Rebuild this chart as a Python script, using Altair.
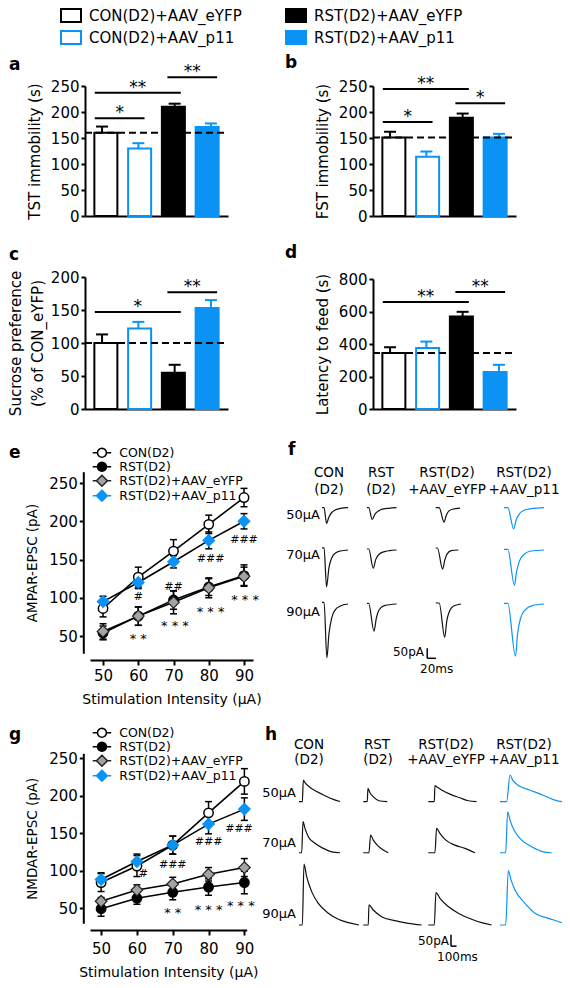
import math
import altair as alt
import pandas as pd

FONT = "DejaVu Sans"
BLUE = "#0A93F5"
GRAY = "#A3A3A3"

# ---------------- behaviour data (panels a-d) ----------------
GROUPS = ["CON(D2)+AAV_eYFP", "CON(D2)+AAV_p11", "RST(D2)+AAV_eYFP", "RST(D2)+AAV_p11"]
TST_MEAN = [160, 130, 210, 171]
TST_SEM = [12, 10, 6, 7]
FST_MEAN = [151, 114, 189, 151]
FST_SEM = [11, 10, 8, 7]
SUC_MEAN = [100, 122, 55, 153]
SUC_SEM = [13, 10, 12, 12]
LAT_MEAN = [345, 375, 570, 228]
LAT_SEM = [35, 40, 28, 44]
# significance brackets: (from group, to group, height, label)
TST_SIG = [(0, 1, 188, "*"), (0, 2, 237, "**"), (2, 3, 267, "**")]
FST_SIG = [(0, 1, 181, "*"), (0, 2, 244, "**"), (2, 3, 217, "*")]
SUC_SIG = [(0, 2, 147, "*"), (2, 3, 177, "**")]
LAT_SIG = [(0, 2, 658, "**"), (2, 3, 720, "**")]

# ---------------- EPSC input-output data (panels e, g) ----------------
INTENSITY = [50, 60, 70, 80, 90]
SERIES = ["CON(D2)", "RST(D2)", "RST(D2)+AAV_eYFP", "RST(D2)+AAV_p11"]
AMPA_CON = [86, 127, 161, 196, 231]
AMPA_CON_SEM = [11, 13, 15, 12, 12]
AMPA_RST = [54, 76, 97, 114, 129]
AMPA_RST_SEM = [9, 12, 12, 11, 14]
AMPA_EYFP = [56, 76, 94, 113, 128]
AMPA_EYFP_SEM = [10, 12, 15, 13, 12]
AMPA_P11 = [95, 120, 147, 175, 200]
AMPA_P11_SEM = [7, 8, 8, 11, 10]
AMPA_HASH = ["#", "##", "###", "###"]
AMPA_HASH_X = [60, 70, 80.5, 90]
AMPA_HASH_Y = [101, 114, 151, 176]
AMPA_STAR = ["**", "***", "***", "***"]
AMPA_STAR_X = [60, 70.4, 80.5, 90.3]
AMPA_STAR_Y = [51, 68, 86, 102]

NMDA_CON = [84, 106, 134, 177, 219]
NMDA_CON_SEM = [12, 14, 12, 15, 17]
NMDA_RST = [49, 63, 71, 78, 84]
NMDA_RST_SEM = [10, 8, 10, 11, 15]
NMDA_EYFP = [59, 74, 82, 95, 104]
NMDA_EYFP_SEM = [5, 7, 9, 9, 12]
NMDA_P11 = [88, 112, 134, 162, 182]
NMDA_P11_SEM = [9, 10, 12, 13, 15]
NMDA_HASH = ["#", "###", "###", "###"]
NMDA_HASH_X = [61.8, 70, 80, 88.5]
NMDA_HASH_Y = [95, 108, 138, 155]
NMDA_STAR = ["**", "***", "***"]
NMDA_STAR_X = [70, 80, 89]
NMDA_STAR_Y = [49, 53, 58]

# ---------------- example traces (time ms after onset, current pA) ----------------
STIM = ["50μA", "70μA", "90μA"]
F50_CON_T = [0, 4.8, 10.4, 16, 22.4, 30.4, 42.4, 60]
F50_CON_I = [0, 0, -78, -46, -24, -11, -3, 0]
F50_RST_T = [0, 4, 12, 18.4, 26.4, 38.4, 50.4, 68]
F50_RST_I = [0, 0, -59, -32, -16, -6, -3, 0]
F50_EYFP_T = [0, 8, 19.2, 24, 30.4, 38.4, 56]
F50_EYFP_I = [0, 0, -72, -40, -16, -8, -2]
F50_P11_T = [0, 8.8, 22.4, 28, 36, 46.4, 62.4, 92]
F50_P11_I = [0, 0, -106, -61, -29, -13, -5, 0]
F70_CON_T = [0, 4.8, 10.4, 16, 22.4, 30.4, 42.4, 60]
F70_CON_I = [11, 11, -184, -88, -40, -16, -5, 0]
F70_RST_T = [0, 4, 14.4, 20, 28, 40, 52, 68]
F70_RST_I = [5, 5, -91, -48, -21, -8, -3, 0]
F70_EYFP_T = [0, 4, 16, 20.8, 26.4, 36, 52]
F70_EYFP_I = [10, 10, -96, -51, -19, -3, 0]
F70_P11_T = [0, 8.8, 24, 28.8, 36, 46.4, 62.4, 92]
F70_P11_I = [3, 3, -176, -109, -53, -21, -5, 0]
F90_CON_T = [0, 4.8, 11.2, 16, 22.4, 30.4, 42.4, 60]
F90_CON_I = [8, 8, -269, -149, -69, -29, -10, 0]
F90_RST_T = [0, 4, 16, 21.6, 28, 40, 68]
F90_RST_I = [3, 3, -136, -69, -29, -8, 0]
F90_EYFP_T = [0, 8, 20.8, 25.6, 32, 40, 58.4]
F90_EYFP_I = [5, 5, -166, -83, -35, -11, 0]
F90_P11_T = [0, 8.8, 26.4, 31.2, 38.4, 48.8, 64.8, 92]
F90_P11_I = [3, 3, -261, -149, -69, -29, -8, 0]

H50_CON_T = [0, 60, 78, 108, 198, 318, 468, 618, 738]
H50_CON_I = [0, 0, 94, 83, 62, 44, 26, 10, 1]
H50_RST_T = [0, 72, 84, 120, 192, 282, 432]
H50_RST_I = [0, 0, 58, 39, 19, 4, 0]
H50_EYFP_T = [0, 108, 120, 150, 240, 390, 570, 720, 870]
H50_EYFP_I = [0, 0, 70, 65, 51, 33, 17, 4, 0]
H50_P11_T = [0, 120, 180, 228, 348, 528, 768, 948, 1128, 1248]
H50_P11_I = [0, 0, 116, 94, 68, 51, 29, 10, 0, 0]
H70_CON_T = [0, 48, 72, 108, 168, 288, 438, 588, 738]
H70_CON_I = [0, 0, 135, 106, 70, 41, 19, 4, 0]
H70_RST_T = [0, 102, 132, 180, 270, 360, 450]
H70_RST_I = [0, 0, 77, 55, 29, 12, 0]
H70_EYFP_T = [0, 120, 150, 210, 300, 480, 660, 840]
H70_EYFP_I = [0, 0, 106, 84, 58, 33, 19, 0]
H70_P11_T = [0, 102, 138, 180, 270, 390, 570, 780, 930]
H70_P11_I = [0, 0, 178, 142, 91, 55, 26, 4, 0]
H90_CON_T = [0, 60, 90, 138, 228, 348, 528, 708, 888, 1080]
H90_CON_I = [0, 0, 265, 210, 145, 94, 51, 25, 10, 0]
H90_RST_T = [0, 90, 102, 180, 330, 570, 810, 1050]
H90_RST_I = [0, 0, 87, 65, 36, 19, 7, 0]
H90_EYFP_T = [0, 108, 138, 210, 360, 540, 780, 960, 1140]
H90_EYFP_I = [0, 0, 141, 116, 80, 51, 25, 10, 0]
H90_P11_T = [0, 102, 150, 198, 270, 450, 630, 870, 1110, 1200]
H90_P11_I = [0, 0, 236, 196, 152, 94, 51, 29, 10, 0]
F_SCALEBAR = (20, 50)    # ms, pA
H_SCALEBAR = (100, 50)   # ms, pA

F_TRACES = [
    (0, 0, F50_CON_T, F50_CON_I), (0, 1, F50_RST_T, F50_RST_I), (0, 2, F50_EYFP_T, F50_EYFP_I), (0, 3, F50_P11_T, F50_P11_I),
    (1, 0, F70_CON_T, F70_CON_I), (1, 1, F70_RST_T, F70_RST_I), (1, 2, F70_EYFP_T, F70_EYFP_I), (1, 3, F70_P11_T, F70_P11_I),
    (2, 0, F90_CON_T, F90_CON_I), (2, 1, F90_RST_T, F90_RST_I), (2, 2, F90_EYFP_T, F90_EYFP_I), (2, 3, F90_P11_T, F90_P11_I),
]
H_TRACES = [
    (0, 0, H50_CON_T, H50_CON_I), (0, 1, H50_RST_T, H50_RST_I), (0, 2, H50_EYFP_T, H50_EYFP_I), (0, 3, H50_P11_T, H50_P11_I),
    (1, 0, H70_CON_T, H70_CON_I), (1, 1, H70_RST_T, H70_RST_I), (1, 2, H70_EYFP_T, H70_EYFP_I), (1, 3, H70_P11_T, H70_P11_I),
    (2, 0, H90_CON_T, H90_CON_I), (2, 1, H90_RST_T, H90_RST_I), (2, 2, H90_EYFP_T, H90_EYFP_I), (2, 3, H90_P11_T, H90_P11_I),
]

# ---------------- layout (page pixels) ----------------
W, H = 554, 972


def px(v):
    return v - 8


AX = dict(domainColor="black", tickColor="black", labelColor="black", titleColor="black",
          grid=False, labelFont=FONT, titleFont=FONT, titleFontWeight="normal")

BAR_XDOM = [-0.47, 3.47]
BRK_L, BRK_R = 0.2, 0.17
FILL_RANGE = ["white", "white", "black", BLUE]
STROKE_RANGE = ["black", BLUE, "black", BLUE]
RECT_PATH = "M-1.54,-1H1.54V1H-1.54Z"


def poly(r, n):
    pts = [(r * math.cos(2 * math.pi * k / n), r * math.sin(2 * math.pi * k / n)) for k in range(n)]
    return "M" + "L".join(f"{x:.3f},{y:.3f}" for x, y in pts) + "Z"


CIRC_PATH = "M-1.85,0H-0.9M0.9,0H1.85" + poly(0.9, 16)
DIAM_PATH = "M-1.85,0H-1.1M1.1,0H1.85M0,-1.1L1.1,0L0,1.1L-1.1,0Z"


def bar_panel(means, sems, sig, ydom, yticks, xpx, ypx, title, legend=None, title_pad=8):
    df = pd.DataFrame({"group": GROUPS, "idx": list(range(len(GROUPS))), "mean": means, "sem": sems})
    df["top"] = df["mean"] + df["sem"]
    sdf = pd.DataFrame(sig, columns=["i", "j", "level", "label"])
    sdf["x1"] = sdf["i"] - BRK_L
    sdf["x2"] = sdf["j"] + BRK_R
    sdf["xm"] = (sdf["x1"] + sdf["x2"]) / 2

    def xs():
        return alt.Scale(domain=BAR_XDOM, range=[px(xpx[0]), px(xpx[1])], nice=False, zero=False)

    def ys():
        return alt.Scale(domain=ydom, range=[px(ypx[0]), px(ypx[1])], nice=False, zero=False)

    xaxis = alt.Axis(orient="bottom", offset=px(ypx[0]) - H, ticks=False, labels=False, title=None,
                     domainWidth=2, **AX)
    yaxis = alt.Axis(orient="left", offset=-px(xpx[0]), values=yticks, tickSize=4, tickWidth=2,
                     domainWidth=2, labelFontSize=15, labelPadding=2, title=title, titleFontSize=15,
                     titlePadding=title_pad, titleLineHeight=22, **AX)

    def fs():
        return alt.Scale(domain=GROUPS, range=FILL_RANGE)

    def ss():
        return alt.Scale(domain=GROUPS, range=STROKE_RANGE)

    bars = alt.Chart(df).mark_bar(size=23, strokeWidth=2, orient="vertical").encode(
        x=alt.X("idx:Q", scale=xs(), axis=xaxis),
        y=alt.Y("mean:Q", scale=ys(), axis=yaxis),
        fill=alt.Fill("group:N", scale=fs(), legend=legend),
        stroke=alt.Stroke("group:N", scale=ss(), legend=legend),
    )
    err = alt.Chart(df).mark_rule(strokeWidth=2).encode(
        x=alt.X("idx:Q", scale=xs(), axis=None), y=alt.Y("mean:Q", scale=ys(), axis=None), y2="top:Q",
        stroke=alt.Stroke("group:N", scale=ss(), legend=None))
    cap = alt.Chart(df).mark_tick(orient="horizontal", size=12, thickness=2, opacity=1).encode(
        x=alt.X("idx:Q", scale=xs(), axis=None), y=alt.Y("top:Q", scale=ys(), axis=None),
        color=alt.Color("group:N", scale=ss(), legend=None))
    ref = alt.Chart(df.head(1)).mark_rule(strokeWidth=2, strokeDash=[7, 4], color="black").encode(
        x=alt.XDatum(BAR_XDOM[0], scale=xs(), axis=None), x2=alt.X2Datum(BAR_XDOM[1]),
        y=alt.Y("mean:Q", scale=ys(), axis=None))
    brk = alt.Chart(sdf).mark_rule(strokeWidth=2, color="black").encode(
        x=alt.X("x1:Q", scale=xs(), axis=None), x2="x2:Q", y=alt.Y("level:Q", scale=ys(), axis=None))
    stars = alt.Chart(sdf).mark_text(fontSize=17, font=FONT, baseline="alphabetic", color="black").encode(
        x=alt.X("xm:Q", scale=xs(), axis=None), y=alt.Y("level:Q", scale=ys(), axis=None), text="label:N")
    return [bars, err, cap, ref, brk, stars]


def line_panel(means, sems, hashes, stars, xdom, xpx, xaxis_y, ydom, ypx, yaxis_x, ytitle, leg_xy,
               xlab_pad, xtitle_pad):
    rows = []
    for s, m, e in zip(SERIES, means, sems):
        for x, mv, ev in zip(INTENSITY, m, e):
            rows.append({"series": s, "intensity": x, "mean": mv, "lo": mv - ev, "hi": mv + ev})
    ldf = pd.DataFrame(rows)

    def xs():
        return alt.Scale(domain=xdom, range=[px(xpx[0]), px(xpx[1])], nice=False, zero=False)

    def ys():
        return alt.Scale(domain=ydom, range=[px(ypx[0]), px(ypx[1])], nice=False, zero=False)

    def fs():
        return alt.Scale(domain=SERIES, range=["white", "black", GRAY, BLUE])

    def ss():
        return alt.Scale(domain=SERIES, range=["black", "black", "#222222", BLUE])

    xaxis = alt.Axis(orient="bottom", offset=px(xaxis_y) - H, values=INTENSITY, tickSize=5, tickWidth=2,
                     domainWidth=2, labelFontSize=15, labelPadding=xlab_pad,
                     title="Stimulation Intensity (μA)", titleFontSize=14, titlePadding=xtitle_pad, **AX)
    yaxis = alt.Axis(orient="left", offset=-px(yaxis_x), values=[50, 100, 150, 200, 250], tickSize=4,
                     tickWidth=2, domainWidth=2, labelFontSize=15, labelPadding=2, title=ytitle,
                     titleFontSize=13.5, titlePadding=9, **AX)
    leg = alt.Legend(orient="none", legendX=px(leg_xy[0]), legendY=px(leg_xy[1]), title=None,
                     labelFontSize=12.5, labelFont=FONT, labelColor="black", labelOffset=11,
                     rowPadding=-4, padding=0, symbolStrokeWidth=1.5, labelLimit=0)
    line = alt.Chart(ldf).mark_line(color="black", strokeWidth=1.6).encode(
        x=alt.X("intensity:Q", scale=xs(), axis=xaxis), y=alt.Y("mean:Q", scale=ys(), axis=yaxis),
        detail="series:N")
    err = alt.Chart(ldf).mark_rule(color="black", strokeWidth=1.5).encode(
        x=alt.X("intensity:Q", scale=xs(), axis=None), y=alt.Y("lo:Q", scale=ys(), axis=None), y2="hi:Q")
    cap_lo = alt.Chart(ldf).mark_tick(orient="horizontal", size=7, thickness=1.5, color="black", opacity=1).encode(
        x=alt.X("intensity:Q", scale=xs(), axis=None), y=alt.Y("lo:Q", scale=ys(), axis=None))
    cap_hi = alt.Chart(ldf).mark_tick(orient="horizontal", size=7, thickness=1.5, color="black", opacity=1).encode(
        x=alt.X("intensity:Q", scale=xs(), axis=None), y=alt.Y("hi:Q", scale=ys(), axis=None))
    circ = alt.Chart(ldf).transform_filter(
        alt.FieldOneOfPredicate(field="series", oneOf=SERIES[:2])
    ).mark_point(shape="circle", filled=True, size=88, strokeWidth=1.5, opacity=1).encode(
        x=alt.X("intensity:Q", scale=xs(), axis=None), y=alt.Y("mean:Q", scale=ys(), axis=None),
        fill=alt.Fill("series:N", scale=fs(), legend=None), stroke=alt.Stroke("series:N", scale=ss(), legend=None))
    diam = alt.Chart(ldf).transform_filter(
        alt.FieldOneOfPredicate(field="series", oneOf=SERIES[2:])
    ).mark_point(shape="diamond", filled=True, size=135, strokeWidth=1.2, opacity=1).encode(
        x=alt.X("intensity:Q", scale=xs(), axis=None), y=alt.Y("mean:Q", scale=ys(), axis=None),
        fill=alt.Fill("series:N", scale=fs(), legend=None), stroke=alt.Stroke("series:N", scale=ss(), legend=None))
    legend_layer = alt.Chart(ldf).transform_filter("datum.intensity < 0").mark_point(
        filled=True, size=100, strokeWidth=1.5, opacity=1).encode(
        x=alt.X("intensity:Q", scale=xs(), axis=None), y=alt.Y("mean:Q", scale=ys(), axis=None),
        shape=alt.Shape("series:N", scale=alt.Scale(domain=SERIES, range=[CIRC_PATH, CIRC_PATH, DIAM_PATH, DIAM_PATH]),
                        legend=leg),
        fill=alt.Fill("series:N", scale=fs(), legend=leg),
        stroke=alt.Stroke("series:N", scale=ss(), legend=leg))
    hdf = pd.DataFrame({"x": hashes[0], "y": hashes[2], "label": hashes[1]})
    sdf = pd.DataFrame({"x": stars[0], "y": stars[2], "label": stars[1]})
    htext = alt.Chart(hdf).mark_text(fontSize=11, font=FONT, color="black", baseline="middle").encode(
        x=alt.X("x:Q", scale=xs(), axis=None), y=alt.Y("y:Q", scale=ys(), axis=None), text="label:N")
    stext = alt.Chart(sdf).transform_calculate(disp="join(split(datum.label, ''), ' ')").mark_text(
        fontSize=13, font=FONT, color="black", baseline="middle", dy=4).encode(
        x=alt.X("x:Q", scale=xs(), axis=None), y=alt.Y("y:Q", scale=ys(), axis=None), text="disp:N")
    return [line, err, cap_lo, cap_hi, circ, diam, legend_layer, htext, stext]


def trace_panel(traces, col_off, row_off, xdom, xpx, ydom, ypx, bar_anchor, bar_len):
    rows = []
    for k, (r, c, T, I) in enumerate(traces):
        for n, (t, i) in enumerate(zip(T, I)):
            rows.append({"trace": k, "col": SERIES[c], "n": n, "x": col_off[c] + t, "y": row_off[r] + i})
    tdf = pd.DataFrame(rows)

    def xs():
        return alt.Scale(domain=xdom, range=[px(xpx[0]), px(xpx[1])], nice=False, zero=False)

    def ys():
        return alt.Scale(domain=ydom, range=[px(ypx[0]), px(ypx[1])], nice=False, zero=False)

    lines = alt.Chart(tdf).mark_line(strokeWidth=1.2, interpolate="monotone").encode(
        x=alt.X("x:Q", scale=xs(), axis=None), y=alt.Y("y:Q", scale=ys(), axis=None),
        detail="trace:N", order="n:Q",
        color=alt.Color("col:N", scale=alt.Scale(domain=SERIES, range=["#111111", "#111111", "#111111", BLUE]),
                        legend=None))
    ax, ay = bar_anchor
    bdf = pd.DataFrame({"x": [ax, ax], "x2": [ax, ax + bar_len[0]], "y": [ay, ay], "y2": [ay + bar_len[1], ay]})
    sbar = alt.Chart(bdf).mark_rule(color="black", strokeWidth=1.5).encode(
        x=alt.X("x:Q", scale=xs(), axis=None), x2="x2:Q", y=alt.Y("y:Q", scale=ys(), axis=None), y2="y2:Q")
    return [lines, sbar]


def label(txt, x, y, size=14, weight="normal", align="center", baseline="middle", color="black"):
    return alt.Chart(pd.DataFrame({"t": [txt]})).mark_text(
        fontSize=size, fontWeight=weight, align=align, baseline=baseline, color=color, font=FONT
    ).encode(x=alt.value(px(x)), y=alt.value(px(y)), text="t:N")


top_legend = alt.Legend(orient="none", legendX=px(63.5), legendY=0, columns=2, columnPadding=39,
                        rowPadding=1, title=None, symbolType=RECT_PATH, symbolSize=169, symbolStrokeWidth=2,
                        labelFontSize=15, labelFont=FONT, labelColor="black", labelOffset=10.5,
                        labelLimit=0, padding=0)

units = []
units += bar_panel(TST_MEAN, TST_SEM, TST_SIG, [0, 250], [0, 50, 100, 150, 200, 250],
                   (85, 228), (216, 86), "TST immobility (s)", legend=top_legend)
units += bar_panel(FST_MEAN, FST_SEM, FST_SIG, [0, 250], [0, 50, 100, 150, 200, 250],
                   (373, 516), (216, 86), "FST immobility (s)")
units += bar_panel(SUC_MEAN, SUC_SEM, SUC_SIG, [0, 200], [0, 50, 100, 150, 200],
                   (85, 228), (409, 277), ["Sucrose preference", "(% of CON_eYFP)"], title_pad=5)
units += bar_panel(LAT_MEAN, LAT_SEM, LAT_SIG, [0, 800], [0, 200, 400, 600, 800],
                   (373, 516), (409, 279), "Latency to feed (s)")
units += line_panel([AMPA_CON, AMPA_RST, AMPA_EYFP, AMPA_P11],
                    [AMPA_CON_SEM, AMPA_RST_SEM, AMPA_EYFP_SEM, AMPA_P11_SEM],
                    (AMPA_HASH_X, AMPA_HASH, AMPA_HASH_Y), (AMPA_STAR_X, AMPA_STAR, AMPA_STAR_Y),
                    [46.3, 92.55], (90, 253), 660, [27.4, 264.8], (653.3, 471.7), 83.3,
                    "AMPAR-EPSC (pA)", (95.7, 446.5), 3, 9)
units += line_panel([NMDA_CON, NMDA_RST, NMDA_EYFP, NMDA_P11],
                    [NMDA_CON_SEM, NMDA_RST_SEM, NMDA_EYFP_SEM, NMDA_P11_SEM],
                    (NMDA_HASH_X, NMDA_HASH, NMDA_HASH_Y), (NMDA_STAR_X, NMDA_STAR, NMDA_STAR_Y),
                    [46.9, 90.65], (90, 246.7), 930, [29.6, 256.5], (923.3, 753.3), 83.3,
                    "NMDAR-EPSC (pA)", (95.7, 726.5), 6, 9)
units += trace_panel(F_TRACES, [0, 103.5, 261.5, 418.6], [0, -211.5, -481.5],
                     [0, 529], (322, 552), [-800, 100], (667.7, 487.7), (242, -753), F_SCALEBAR)
units += trace_panel(H_TRACES, [0, 1157, 2327, 3618], [0, -222, -536],
                     [0, 4500], (299, 549), [-700, 300], (962.7, 732.7), (2736, -628), H_SCALEBAR)

texts = [
    label("a", 9, 65, 17, "bold", "left"), label("b", 285, 63, 17, "bold", "left"),
    label("c", 9, 255, 17, "bold", "left"), label("d", 285, 253, 17, "bold", "left"),
    label("e", 9, 453, 17, "bold", "left"), label("f", 288, 450, 17, "bold", "left"),
    label("g", 9, 735, 17, "bold", "left"), label("h", 265, 735, 17, "bold", "left"),
    label("CON", 329, 473, 13.5), label("(D2)", 329, 490, 13.5),
    label("RST", 381, 473, 13.5), label("(D2)", 381, 490, 13.5),
    label("RST(D2)", 447, 473, 13.5), label("+AAV_eYFP", 447, 490, 13.5),
    label("RST(D2)", 524, 473, 13.5), label("+AAV_p11", 524, 490, 13.5),
    label(STIM[0], 320, 515, 13, align="right"), label(STIM[1], 320, 555, 13, align="right"),
    label(STIM[2], 320, 612, 13, align="right"),
    label("50pA", 424, 652, 12, align="right"), label("20ms", 420, 669, 12, align="left"),
    label("CON", 309, 745, 13.5), label("(D2)", 309, 760, 13.5),
    label("RST", 377, 745, 13.5), label("(D2)", 378, 760, 13.5),
    label("RST(D2)", 446, 745, 13.5), label("+AAV_eYFP", 446, 760, 13.5),
    label("RST(D2)", 524, 745, 13.5), label("+AAV_p11", 524, 760, 13.5),
    label(STIM[0], 296, 793, 13, align="right"), label(STIM[1], 296, 843, 13, align="right"),
    label(STIM[2], 296, 914, 13, align="right"),
    label("50pA", 449, 941, 12, align="right"), label("100ms", 437, 957, 12, align="left"),
]

chart = alt.layer(*units, *texts).resolve_scale(
    x="independent", y="independent", fill="independent", stroke="independent",
    shape="independent", color="independent"
).properties(
    width=W, height=H, padding=0, autosize=alt.AutoSizeParams(type="none")
).configure(font=FONT).configure_view(stroke=None)

chart.save("out.html", embed_options={"renderer": "svg", "actions": False})
